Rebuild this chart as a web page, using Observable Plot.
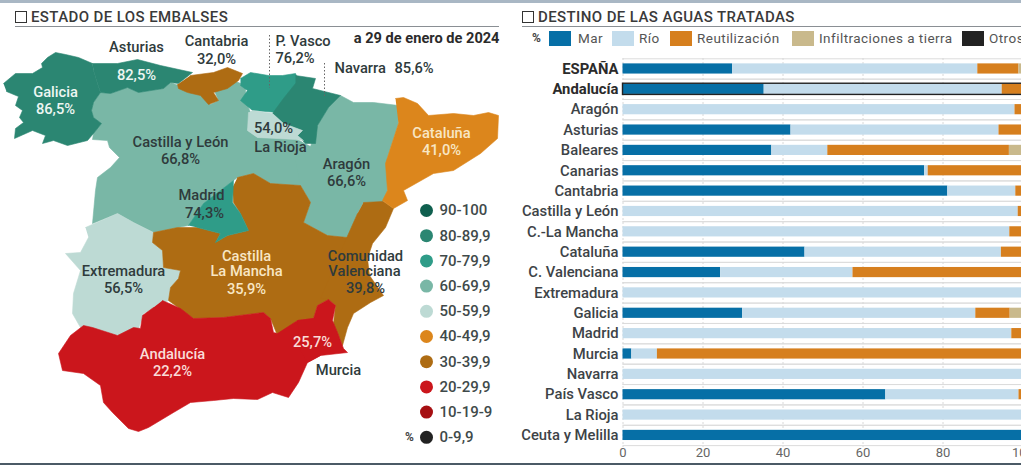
<!DOCTYPE html>
<html lang="es">
<head>
<meta charset="utf-8">
<script src="https://cdn.jsdelivr.net/npm/d3@7"></script>
<script src="https://cdn.jsdelivr.net/npm/@observablehq/plot@0.6"></script>
<style>
html,body{margin:0;padding:0;background:#fff;overflow:hidden}
#page{position:relative;width:1021px;height:465px;overflow:hidden;font-family:Roboto,sans-serif;color:#333}
#page svg{position:absolute;top:0;overflow:hidden;background:transparent}
#topline{position:absolute;left:0;top:0;width:1021px;height:3px;background:#a9b7c4}
#botline{position:absolute;left:0;top:463px;width:1021px;height:2px;background:#4b5a66}
.head{position:absolute;top:9px;height:17px;border-bottom:1.5px solid #8a8f94;font-size:15px;font-weight:500;line-height:17px;color:#3a3a3a;letter-spacing:.4px;white-space:nowrap}
.head i{display:inline-block;width:10px;height:10px;border:1.6px solid #333;margin-right:4px;vertical-align:-1px}
.leg{position:absolute;top:31px;height:15px;line-height:15px;font-size:13.5px;color:#555;letter-spacing:.45px;white-space:nowrap}
.sw{position:absolute;top:31px;height:15px}
</style>
</head>
<body>
<div id="page">
  <div id="topline"></div><div id="botline"></div>
  <div class="head" style="left:15px;width:484px"><i></i>ESTADO DE LOS EMBALSES</div>
  <div class="head" style="left:522px;width:499px"><i></i>DESTINO DE LAS AGUAS TRATADAS</div>
  <div id="legendRow"></div>
</div>
<script>
// ---------- Reservoir map ----------
const bandNames = ["90-100","80-89,9","70-79,9","60-69,9","50-59,9","40-49,9","30-39,9","20-29,9","10-19-9","0-9,9"];
const bandColors = ["#0f5f4e","#2b8672","#2f9c88","#79b7a6","#bddad4","#dc861c","#ae6c13","#cb161c","#a60f12","#222222"];

const galicia = [[3,83],[15,73],[32,73],[42,67],[41,63],[47,57],[55,52],[65,54],[78,57],[92,63],[93,70],[97,83],[100,92],[93,102],[91,110],[93,117],[101,123],[93,133],[87,140],[67,145],[53,140],[42,143],[45,135],[32,130],[14,138],[15,128],[23,122],[19,117],[22,110],[15,105],[18,96],[6,91]];
const asturias = [[92,63],[117,63],[137,59],[160,65],[192,72],[178,83],[170,82],[163,88],[138,92],[127,87],[110,93],[100,92],[97,83],[93,70]];
const cantabria = [[190,75],[213,72],[227,67],[242,73],[238,80],[227,88],[213,92],[218,100],[208,104],[200,95],[187,92],[178,88],[177,84]];
const castillaLeon = [[100,92],[110,93],[127,87],[138,92],[163,88],[170,82],[178,85],[187,92],[203,93],[210,104],[218,100],[213,88],[233,80],[245,85],[245,100],[250,112],[247,130],[257,137],[295,138],[310,146],[300,185],[270,183],[253,173],[237,177],[233,180],[203,203],[188,225],[177,227],[153,232],[133,222],[117,213],[92,223],[95,190],[97,177],[110,167],[119,157],[109,147],[107,140],[92,139],[93,133],[101,123],[93,117],[91,110],[93,102]];
const aragon = [[340,95],[353,102],[373,102],[398,105],[398,123],[387,157],[388,173],[387,190],[382,202],[363,202],[357,213],[347,237],[327,235],[303,222],[310,202],[300,185],[295,160],[310,146],[317,125],[328,107]];
const cataluna = [[395,98],[403,97],[417,103],[428,115],[453,113],[473,115],[488,112],[498,115],[497,138],[480,153],[453,170],[433,173],[403,190],[407,200],[393,208],[382,200],[387,190],[385,163],[398,123]];
const extremadura = [[85,227],[117,213],[133,222],[153,232],[152,242],[162,250],[163,267],[180,270],[178,278],[170,287],[168,300],[143,313],[138,328],[117,335],[95,328],[80,327],[72,313],[73,293],[80,270],[65,253],[80,252],[88,237]];
const castillaMancha = [[237,177],[253,173],[270,183],[300,185],[310,202],[303,222],[327,235],[347,237],[350,290],[328,299],[317,305],[313,318],[297,320],[277,335],[270,318],[263,312],[223,317],[193,318],[168,300],[170,287],[178,278],[180,270],[163,267],[162,250],[152,242],[153,232],[177,227],[197,227],[220,233],[215,242],[227,235],[248,230],[240,213],[233,202],[232,187]];
const valenciana = [[363,202],[383,201],[393,208],[385,227],[372,243],[367,258],[369,275],[383,295],[370,302],[353,313],[347,327],[342,345],[333,323],[335,305],[328,299],[320,298],[345,240],[357,213]];
const andalucia = [[162,300],[180,308],[193,318],[223,317],[263,312],[270,318],[273,332],[277,333],[297,320],[313,318],[320,325],[320,355],[307,362],[298,382],[288,397],[272,392],[257,399],[233,398],[213,400],[190,402],[173,412],[148,427],[138,431],[128,428],[112,412],[103,402],[100,385],[83,373],[62,370],[58,353],[70,335],[83,325],[92,327],[117,335],[133,327],[140,328],[142,315],[153,307]];
const murcia = [[297,320],[313,318],[317,305],[328,299],[335,305],[332,320],[337,332],[343,348],[347,352],[320,355],[307,362],[300,350]];
const madrid = [[188,225],[203,203],[233,180],[232,202],[240,213],[248,230],[227,235],[215,242],[220,233],[197,227]];
const paisVasco = [[240,78],[250,72],[268,75],[282,75],[295,73],[298,80],[287,97],[277,112],[252,110],[240,100],[247,90],[240,85]];
const navarra = [[295,75],[315,78],[312,88],[340,95],[328,107],[317,125],[315,143],[305,143],[297,135],[302,130],[283,123],[272,113],[283,98],[295,83]];
const rioja = [[252,110],[272,113],[283,123],[302,130],[297,135],[303,140],[295,139],[257,137],[247,130],[248,112]];

const regions = [
  {name:"Castilla y León", band:3, shape:castillaLeon},
  {name:"Aragón", band:3, shape:aragon},
  {name:"Extremadura", band:4, shape:extremadura},
  {name:"Castilla La Mancha", band:6, shape:castillaMancha},
  {name:"Comunidad Valenciana", band:6, shape:valenciana},
  {name:"Cataluña", band:5, shape:cataluna},
  {name:"Madrid", band:2, shape:madrid},
  {name:"Andalucía", band:7, shape:andalucia},
  {name:"Murcia", band:7, shape:murcia},
  {name:"Galicia", band:1, shape:galicia},
  {name:"Asturias", band:1, shape:asturias},
  {name:"Cantabria", band:6, shape:cantabria},
  {name:"P. Vasco", band:2, shape:paisVasco},
  {name:"Navarra", band:1, shape:navarra},
  {name:"La Rioja", band:4, shape:rioja}
];
const mapPoints = regions.flatMap(r => r.shape.map(([x,y]) => ({name:r.name, x, y, fill:bandColors[r.band]})));

const DARK = "#2f3b3c", WHITE = "#eef6f2", CREAM = "#f8e6c4", PINK = "#f9dcd8";
const mapLabels = [
  ["Asturias",136,47,DARK,"middle"],["82,5%",136,75,WHITE,"middle"],
  ["Cantabria",216,41,DARK,"middle"],["32,0%",216,59,DARK,"middle"],
  ["P. Vasco",275,41,DARK,"start"],["76,2%",275,58,DARK,"start"],
  ["Navarra",334,68,DARK,"start"],["85,6%",394,68,DARK,"start"],
  ["Galicia",55,92,WHITE,"middle"],["86,5%",55,109,WHITE,"middle"],
  ["Castilla y León",180,142,DARK,"middle"],["66,8%",180,159,DARK,"middle"],
  ["54,0%",273,128,DARK,"middle"],["La Rioja",280,147,DARK,"middle"],
  ["Aragón",346,164,DARK,"middle"],["66,6%",346,181,DARK,"middle"],
  ["Cataluña",441,133,CREAM,"middle"],["41,0%",441,150,CREAM,"middle"],
  ["Madrid",201,195,DARK,"middle"],["74,3%",204,213,DARK,"middle"],
  ["Castilla",246,256,CREAM,"middle"],["La Mancha",246,271,CREAM,"middle"],["35,9%",246,289,CREAM,"middle"],
  ["Comunidad",365,256,DARK,"middle"],["Valenciana",364,271,DARK,"middle"],["39,8%",365,288,DARK,"middle"],
  ["Extremadura",123,271,DARK,"middle"],["56,5%",123,288,DARK,"middle"],
  ["Andalucía",172,354,PINK,"middle"],["22,2%",172,371,PINK,"middle"],
  ["25,7%",312,342,PINK,"middle"],["Murcia",338,370,DARK,"middle"]
].map(([text,x,y,fill,anchor]) => ({text,x,y,fill,anchor}));

const leaders = [{x:269,y1:35,y2:88},{x:324,y1:63,y2:98}];
const legendDots = bandNames.map((name,i) => ({name, fill:bandColors[i], x:426, y:210 + i*25.2}));

const mapPlot = Plot.plot({
  width:510, height:465, margin:0,
  x:{domain:[0,510], range:[0,510], axis:null},
  y:{domain:[0,465], range:[0,465], axis:null},
  color:{type:"identity"},
  style:{fontFamily:"Roboto, sans-serif", background:"transparent"},
  marks:[
    Plot.line(mapPoints,{x:"x",y:"y",z:"name",fill:"fill",stroke:"fill",strokeWidth:.6,curve:"linear"}),
    Plot.ruleX(leaders,{x:"x",y1:"y1",y2:"y2",stroke:"#666",strokeDasharray:"1.5 2",strokeWidth:1}),
    ...["start","middle"].map(a => Plot.text(mapLabels.filter(d=>d.anchor===a),{x:"x",y:"y",text:"text",fill:"fill",textAnchor:a,fontSize:14.7,fontWeight:500})),
    Plot.text(["a 29 de enero de 2024"],{x:()=>499,y:()=>38,text:d=>d,textAnchor:"end",fontSize:14.6,fontWeight:700,fill:"#2b2b2b"}),
    Plot.dot(legendDots,{x:"x",y:"y",r:6.5,fill:"fill"}),
    Plot.text(legendDots,{x:d=>d.x+13,y:"y",text:"name",textAnchor:"start",fontSize:15,fontWeight:500,fill:"#3f4a4a"}),
    Plot.text(["%"],{x:()=>409,y:()=>437,text:d=>d,fontSize:12,fontWeight:700,fill:"#444"})
  ]
});
mapPlot.style.left = "0px";
document.getElementById("page").appendChild(mapPlot);

// ---------- Treated-water destinations ----------
const places = ["ESPAÑA","Andalucía","Aragón","Asturias","Baleares","Canarias","Cantabria","Castilla y León","C.-La Mancha","Cataluña","C. Valenciana","Extremadura","Galicia","Madrid","Murcia","Navarra","País Vasco","La Rioja","Ceuta y Melilla"];
const destinations = ["Mar","Río","Reutilización","Infiltraciones a tierra","Otros"];
const destColors = ["#066fa6","#c3dcec","#d67f1e","#c9b98c","#222222"];
const mar   = [27.4,35.3,0,42,37.2,75.4,81.2,0,0,45.5,24.4,0,29.9,0,2.2,0,65.7,0,100];
const rio   = [61.3,59.5,98,52,14,0.9,17,98.8,96.7,49.1,33.1,100,58.3,97.2,6.4,100,33.3,100,0];
const reuti = [10.3,5.2,2,6,45.4,23.7,1.8,1.2,3.3,5.4,42.5,0,8.6,2.8,91.4,0,1,0,0];
const infil = [0.8,0,0,0,3.4,0,0,0,0,0,0,0,3.2,0,0,0,0,0,0];
const otros = [0.2,0,0,0,0,0,0,0,0,0,0,0,0,0,0,0,0,0,0];
const seriesValues = [mar,rio,reuti,infil,otros];
const barData = destinations.flatMap((dest,k) => places.map((place,i) => ({place, dest, value:seriesValues[k][i]})));
const xTicks = [0,20,40,60,80,100];

const barPlot = Plot.plot({
  width:511, height:465, marginLeft:0, marginRight:0, marginTop:58, marginBottom:18,
  x:{domain:[0,100], range:[112.5,512.5], axis:null},
  y:{domain:places, range:[53.2,450.2], padding:.5, round:false, axis:null},
  color:{domain:destinations, range:destColors},
  style:{fontFamily:"Roboto, sans-serif", background:"transparent"},
  marks:[
    Plot.gridY(places,{x1:0,x2:100,dy:-10.18,stroke:"#dcdcdc",strokeOpacity:1}),
    Plot.gridY(places,{x1:0,x2:100,dy:10.18,stroke:"#dcdcdc",strokeOpacity:1}),
    Plot.gridX(xTicks,{stroke:"#d8d8d8",strokeOpacity:1,strokeDasharray:"2 2"}),
    Plot.barX(barData,Plot.stackX({x:"value",y:"place",fill:"dest",order:destinations})),
    Plot.barX(["Andalucía"],{x1:()=>0,x2:()=>100,y:d=>d,fill:"none",stroke:"#222",strokeWidth:1.4,insetTop:-.5,insetBottom:-.5}),
    Plot.axisY(places.slice(0,2),{anchor:"left",tickSize:0,tickPadding:-108,fontSize:14.8,fontWeight:700,fill:"#2b2b2b",label:null,textAnchor:"end"}),
    Plot.axisY(places.slice(2),{anchor:"left",tickSize:0,tickPadding:-108,fontSize:14.8,fontWeight:500,fill:"#3d4347",label:null,textAnchor:"end"}),
    Plot.axisX(xTicks,{anchor:"bottom",tickSize:0,tickPadding:0,fontSize:13,fill:"#666",label:null})
  ]
});
barPlot.style.left = "510px";
document.getElementById("page").appendChild(barPlot);

// legend row
const legendRow = document.getElementById("legendRow");
const legendLayout = [[549,22,578],[612,22,639],[670,22,697],[792,22,819],[962,22,989]];
legendRow.insertAdjacentHTML("beforeend", `<div class="leg" style="left:532px;font-weight:700;font-size:12px;color:#444">%</div>`);
destinations.forEach((d,i) => {
  const [sx,sw,tx] = legendLayout[i];
  legendRow.insertAdjacentHTML("beforeend",
    `<div class="sw" style="left:${sx}px;width:${sw}px;background:${destColors[i]}"></div><div class="leg" style="left:${tx}px">${d}</div>`);
});
</script>
</body>
</html>
